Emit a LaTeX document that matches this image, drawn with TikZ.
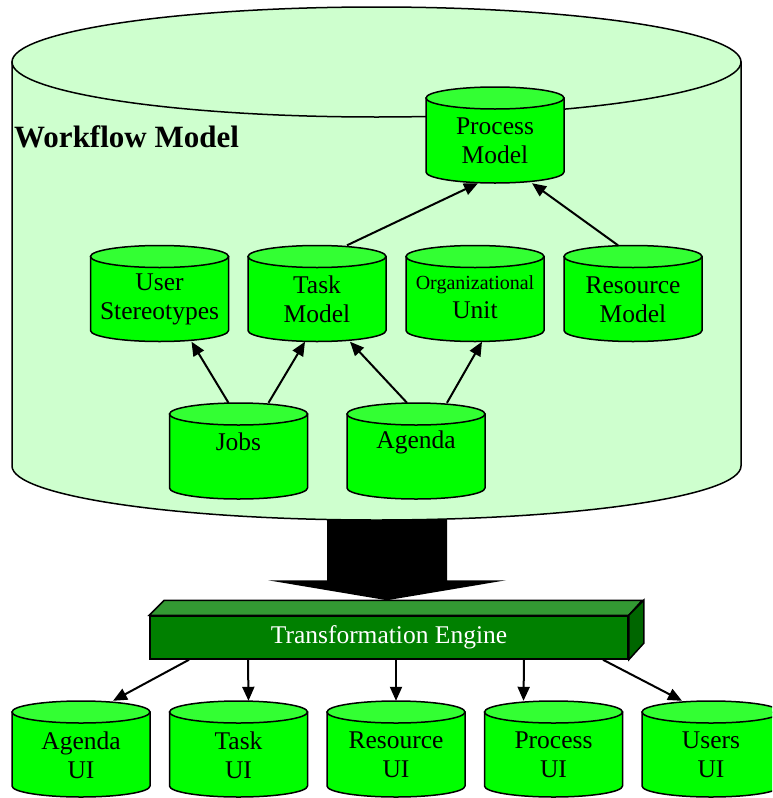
\documentclass[tikz,border=0pt]{standalone}
\usepackage{fontspec}
\setmainfont{Liberation Serif}
\usetikzlibrary{arrows.meta,calc}

\definecolor{wfgreen}{RGB}{206,255,206}
\definecolor{dbgreen}{RGB}{0,255,0}
\definecolor{dbtop}{RGB}{51,255,51}
\definecolor{engfront}{RGB}{0,128,0}
\definecolor{engtop}{RGB}{51,153,51}
\definecolor{engside}{RGB}{0,102,0}

% one data store: name, x, y, text offset, text
\newcommand\dbstore[5]{%
  \begin{scope}[shift={(#2,#3)}]
    \draw[dbline, fill=dbgreen] (-69,-37) -- (-69,37)
      arc[start angle=180, end angle=360, x radius=69pt, y radius=11pt]
      -- (69,-37) -- cycle;
    \draw[dbline, fill=dbtop] (0,-37) ellipse [x radius=69pt, y radius=11pt];
    \node[dbbox] (#1) at (0,0) {};
    \node[dbtext] (#1txt) at (0,#4) {#5};
  \end{scope}}

\begin{document}
\begin{tikzpicture}[
      x=1pt, y=-1pt,
      dbline/.style={draw=black, line width=1.5pt},
      dbbox/.style={rectangle, minimum width=138pt, minimum height=96pt, inner sep=0pt},
      dbtext/.style={align=center, inner sep=0pt, font=\fontsize{25.5}{29}\selectfont},
      link/.style={-{Triangle[length=14pt,width=12pt]}, line width=2pt},
      face/.style={draw=black, line width=1.5pt}
    ]
    \useasboundingbox (0,0) rectangle (772,798);
    \clip (0,0) rectangle (772,798);

    % transformation engine as a flat 3d bar
    \node[face, fill=engfront, minimum width=478pt, minimum height=43pt, inner sep=0pt,
      text=white, font=\fontsize{25.5}{29}\selectfont] (engine) at (389,637.5)
      {Transformation Engine};
    \draw[face, fill=engtop] (engine.north west) -- ++(15,-15) -- ++(478,0)
      -- (engine.north east) -- cycle;
    \draw[face, fill=engside] (engine.north east) -- ++(15,-15) -- ++(0,43)
      -- (engine.south east) -- cycle;

    % big block arrow, shaft hidden under the model
    \coordinate (tip) at ($(engine.north)+(-2,-15)$);
    \fill (tip) -- ++(-119,-20) -- ++(59,0) -- ++(0,-100) -- ++(120,0)
      -- ++(0,100) -- ++(59,0) -- cycle;

    % workflow model container
    \draw[dbline, fill=wfgreen] (12,62) -- (12,466)
      arc[start angle=180, end angle=360, x radius=364.5pt, y radius=54pt]
      -- (741,62) -- cycle;
    \draw[dbline, fill=wfgreen] (376.5,62) ellipse [x radius=364.5pt, y radius=55pt];
    \node[anchor=west, inner sep=0pt, font=\fontsize{31}{35}\selectfont\bfseries] (wflabel)
      at (14,137) {Workflow Model};

    % model stores
    \dbstore{proc}{495}{135}{6}{Process\\Model}
    \dbstore{ust}{159.5}{293.5}{6}{User\\Stereotypes}
    \dbstore{task}{317}{293.5}{6}{Task\\Model}
    \dbstore{org}{475}{293.5}{4}{{\fontsize{20}{22}\selectfont Organizational}\\Unit}
    \dbstore{res}{633}{293.5}{6}{Resource\\Model}
    \dbstore{jobs}{238.5}{451}{-9}{Jobs}
    \dbstore{agenda}{416}{451}{-9}{Agenda}

    \draw[link] ([xshift=30pt]task.north) -- ([xshift=-17pt]proc.south);
    \draw[link] ([xshift=-15pt]res.north) -- ([xshift=37pt]proc.south);
    \draw[link] ([xshift=-10pt]jobs.north) -- ([xshift=32pt]ust.south);
    \draw[link] ([xshift=30pt]jobs.north) -- ([xshift=-12pt]task.south);
    \draw[link] ([xshift=-9pt]agenda.north) -- ([xshift=33pt]task.south);
    \draw[link] ([xshift=31pt]agenda.north) -- ([xshift=7pt]org.south);

    % generated user interfaces
    \dbstore{aui}{81}{749}{6}{Agenda\\UI}
    \dbstore{tui}{238.5}{749}{6}{Task\\UI}
    \dbstore{rui}{396}{749}{6}{Resource\\UI}
    \dbstore{pui}{553.5}{749}{6}{Process\\UI}
    \dbstore{uui}{711}{749}{6}{Users\\UI}

    \draw[link] ([xshift=-200pt]engine.south) -- ([xshift=32pt]aui.north);
    \draw[link] ([xshift=-141pt]engine.south) -- ([xshift=10pt]tui.north);
    \draw[link] ([xshift=7pt]engine.south) -- (rui.north);
    \draw[link] ([xshift=135pt]engine.south) -- ([xshift=-30pt]pui.north);
    \draw[link] ([xshift=214pt]engine.south) -- ([xshift=-29pt]uui.north);
  \end{tikzpicture}
\end{document}
